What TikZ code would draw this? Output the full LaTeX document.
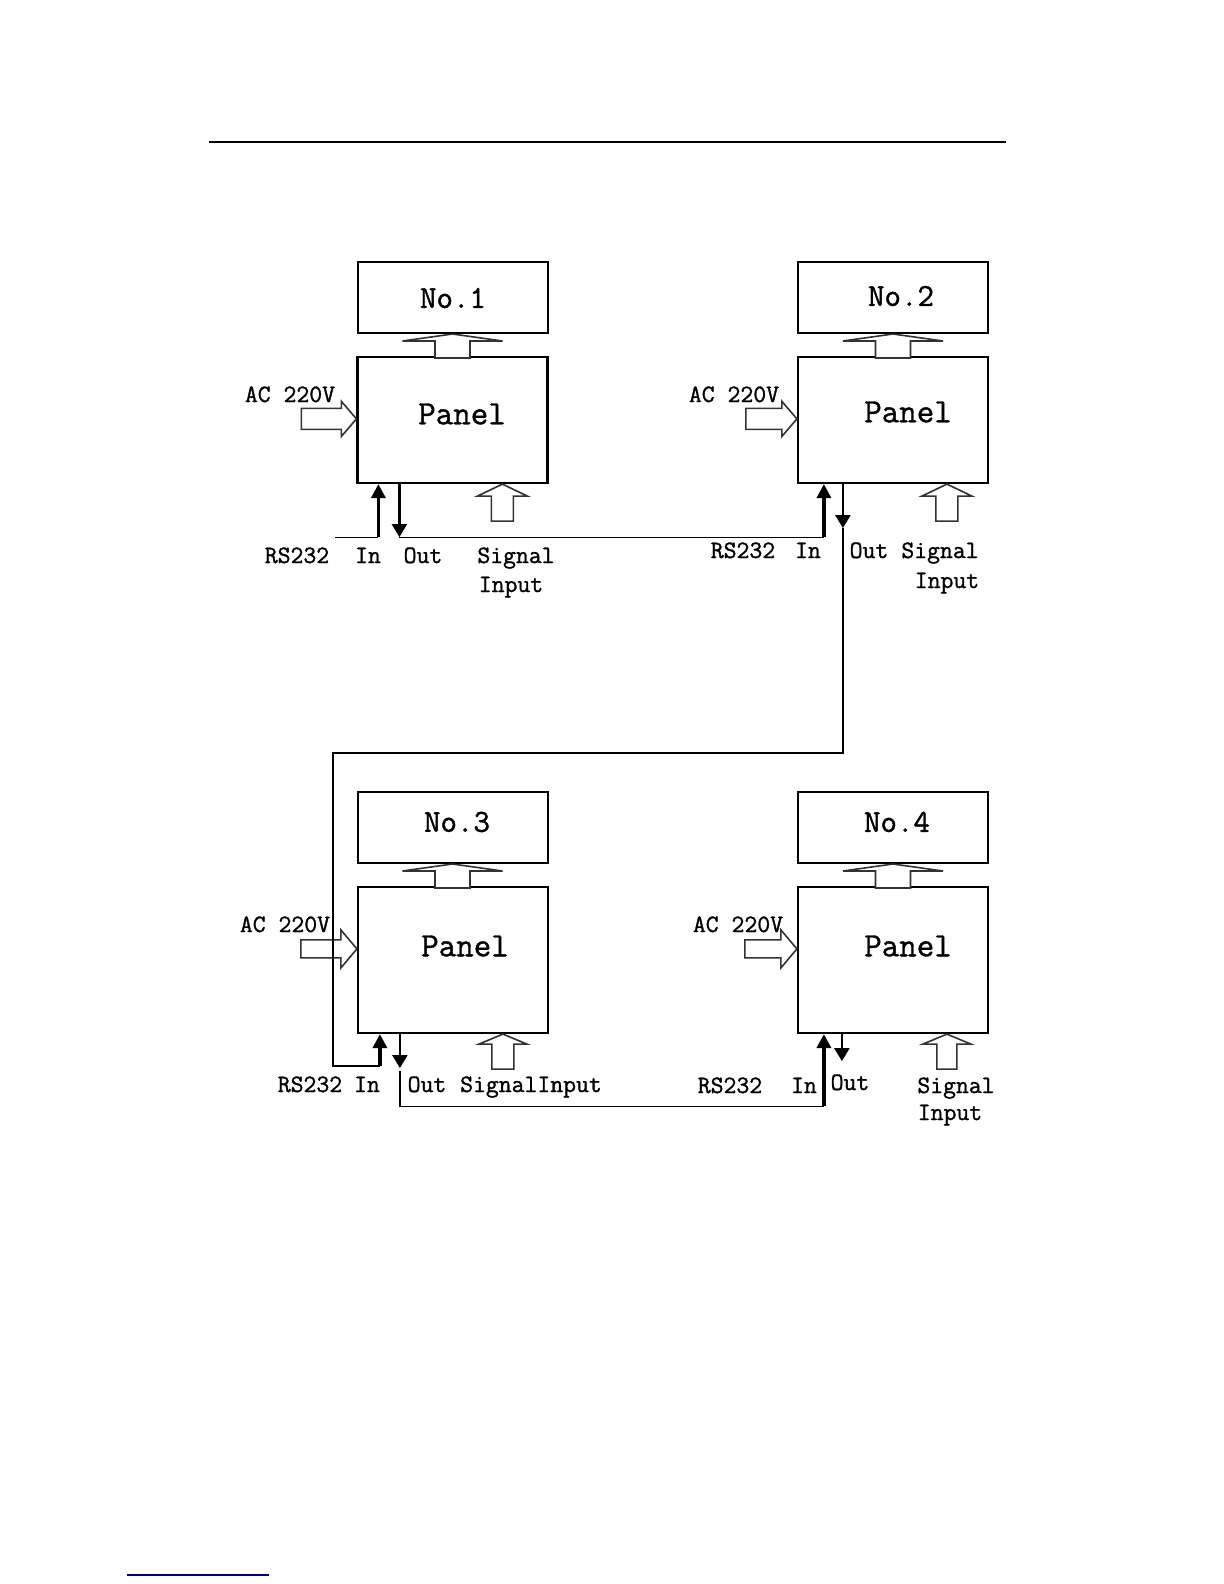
\documentclass[tikz,border=0pt]{standalone}
\usepackage{fontspec}
\newfontfamily\labfont{lmmono12-regular.otf}[FakeBold=1.2]
\usetikzlibrary{arrows.meta,calc}

\tikzset{
    screenbox/.style={draw, line width=1pt, minimum width=95pt, minimum height=35.5pt, inner sep=0pt},
    panelbox/.style={draw, line width=1.1pt, minimum width=95pt, inner sep=0pt},
    lab/.style={anchor=base, inner sep=0pt, font=\labfont\fontsize{12.5}{14}\selectfont},
    big/.style={inner sep=0pt, font=\labfont\fontsize{17}{20}\selectfont},
    mid/.style={inner sep=0pt, font=\labfont\fontsize{16}{18}\selectfont},
    wire/.style={line width=0.6pt},
    inwire/.style={line width=1.7pt, -{Triangle[width=7pt,length=7pt]}},
    outwire/.style={line width=1.1pt, -{Triangle[width=7.5pt,length=6.5pt]}},
    fat/.style={draw=black!80, line width=0.8pt, fill=white, line join=miter},
    pics/fatup/.style n args={4}{code={
        \draw[fat] (0,0) -- (#3,#4) -- (#1,#4) -- (#1,#4+#2) -- (-#1,#4+#2) -- (-#1,#4) -- (-#3,#4) -- cycle;
    }},
    pics/fatright/.style n args={4}{code={
        \draw[fat] (0,0) -- (-#4,-#3) -- (-#4,-#1) -- (-#4-#2,-#1) -- (-#4-#2,#1) -- (-#4,#1) -- (-#4,#3) -- cycle;
    }}
}

\begin{document}
\begin{tikzpicture}[x=0.5pt, y=-0.5pt]
    \useasboundingbox (0,0) rectangle (1224,1584);
    % page rules
    \draw[line width=0.9pt] (209,142) -- (1006,142);
    \draw[line width=0.8pt, color=blue!55!black] (127,1575) -- (269,1575);

    % the four units
    \node[screenbox] (no1) at (452.5,297.5) {};
    \node[screenbox] (no2) at (893,297.5) {};
    \node[screenbox] (no3) at (452.5,827.5) {};
    \node[screenbox] (no4) at (893,827.5) {};
    \node[mid] (no1txt) at (453,298) {No.1};
    \node[mid] (no2txt) at (901,296) {No.2};
    \node[mid] (no3txt) at (457,822) {No.3};
    \node[mid] (no4txt) at (897,822) {No.4};

    \node[panelbox, minimum height=63pt] (p1) at (452.5,420) {};
    \node[panelbox, minimum height=63pt] (p2) at (893,420) {};
    \node[panelbox, minimum height=73pt] (p3) at (453,960) {};
    \node[panelbox, minimum height=73pt] (p4) at (893,960) {};
    \node[big] (p1txt) at (462,414) {Panel};
    \node[big] (p2txt) at (908,412) {Panel};
    \node[big] (p3txt) at (465,946) {Panel};
    \node[big] (p4txt) at (908,946) {Panel};

    % hollow arrows
    \foreach \u in {1,2,3,4} {
        \pic at (no\u.south) {fatup={17.5}{17}{50}{7}};
    }
    \pic at ($(p1.north west)+(0,63)$) {fatright={10.5}{40}{17.5}{15}};
    \pic at ($(p2.north west)+(0,63)$) {fatright={10.5}{36}{17.5}{15}};
    \pic at ($(p3.north west)+(0,63)$) {fatright={9}{40}{19}{16}};
    \pic at ($(p4.north west)+(0,63)$) {fatright={9}{36}{19}{16}};
    \pic at ($(p1.south west)+(146,0)$) {fatup={11}{25}{25}{12}};
    \pic at ($(p2.south west)+(150,0)$) {fatup={11}{25}{25}{12}};
    \pic at ($(p3.south west)+(146,0)$) {fatup={11}{25}{24}{10}};
    \pic at ($(p4.south west)+(150,0)$) {fatup={10}{25}{24}{10}};

    % RS232 ports
    \coordinate (in1) at ($(p1.south west)+(22,0)$);
    \coordinate (out1) at ($(p1.south west)+(43,0)$);
    \coordinate (in2) at ($(p2.south west)+(27,0)$);
    \coordinate (out2) at ($(p2.south west)+(46,0)$);
    \coordinate (in3) at ($(p3.south west)+(23,0)$);
    \coordinate (out3) at ($(p3.south west)+(43,0)$);
    \coordinate (in4) at ($(p4.south west)+(27,0)$);
    \coordinate (out4) at ($(p4.south west)+(45,0)$);
    \coordinate (in1foot) at ($(in1)+(0,53)$);
    \coordinate (rsfree) at ($(in1foot)+(-43,0)$);
    \coordinate (out1tip) at ($(out1)+(0,53)$);
    \coordinate (in2foot) at ($(in2)+(0,53)$);
    \coordinate (out2tip) at ($(out2)+(0,44)$);
    \coordinate (turn) at (333,753);
    \coordinate (in3foot) at ($(in3)+(0,32)$);
    \coordinate (out3tip) at ($(out3)+(0,34)$);
    \coordinate (in4foot) at ($(in4)+(0,72)$);
    \coordinate (out4tip) at ($(out4)+(0,27)$);

    % RS232 chain
    \draw[wire] (rsfree) -- (in1foot);
    \draw[inwire] (in1foot) -- (in1);
    \draw[outwire] (out1) -- (out1tip);
    \draw[wire] (out1tip) -- (in2foot);
    \draw[inwire] (in2foot) -- (in2);
    \draw[outwire] (out2) -- (out2tip);
    \draw[wire, line width=0.8pt] (out2tip) |- (turn) |- (in3foot);
    \draw[inwire] (in3foot) -- (in3);
    \draw[outwire] (out3) -- (out3tip);
    \draw[wire] ($(out3tip)+(0,3)$) |- (in4foot);
    \draw[inwire] (in4foot) -- (in4);
    \draw[outwire] (out4) -- (out4tip);

    % labels
    \node[lab] (ac1) at (290,402) {AC 220V};
    \node[lab] (rs1) at (297,563) {RS232};
    \node[lab] (in1lab) at (368,563) {In};
    \node[lab] (out1lab) at (423,563) {Out};
    \node[lab] (sig1) at (516,563) {Signal};
    \node[lab] (inp1) at (511,592) {Input};

    \node[lab] (ac2) at (734,402) {AC 220V};
    \node[lab] (rs2) at (743,558) {RS232};
    \node[lab] (in2lab) at (808,558) {In};
    \node[lab] (out2lab) at (869,558) {Out};
    \node[lab] (sig2) at (940,558) {Signal};
    \node[lab] (inp2) at (947,588) {Input};

    \node[lab] (ac3) at (285,932) {AC 220V};
    \node[lab] (rs3) at (310,1092) {RS232};
    \node[lab] (in3lab) at (367,1092) {In};
    \node[lab] (out3lab) at (427,1092) {Out};
    \node[lab] (sig3) at (531,1092) {SignalInput};

    \node[lab] (ac4) at (738,932) {AC 220V};
    \node[lab] (rs4) at (730,1093) {RS232};
    \node[lab] (in4lab) at (804,1093) {In};
    \node[lab] (out4lab) at (850,1090) {Out};
    \node[lab] (sig4) at (956,1093) {Signal};
    \node[lab] (inp4) at (950,1120) {Input};
\end{tikzpicture}
\end{document}
